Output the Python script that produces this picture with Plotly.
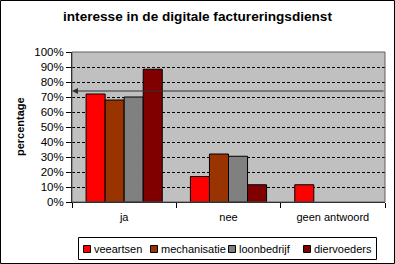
import plotly.graph_objects as go

categories = ["ja", "nee", "geen antwoord"]
series_names = ["veeartsen", "mechanisatie", "loonbedrijf", "diervoeders"]
veeartsen = [72, 17, 11.5]
mechanisatie = [68, 32, None]
loonbedrijf = [70, 30.5, None]
diervoeders = [88.5, 11.5, None]
colors = ["#FF0000", "#993300", "#808080", "#800000"]
reference_level = 74
y_ticks = [0, 10, 20, 30, 40, 50, 60, 70, 80, 90, 100]

W, H = 395, 264
L, R, T, B = 72, 10, 52, 62
pw, ph = W - L - R, H - T - B


def px(xp):
    return (xp - L) / pw


def py(yp):
    return (H - B - yp) / ph


fig = go.Figure()
for name, vals, c in zip(series_names, [veeartsen, mechanisatie, loonbedrijf, diervoeders], colors):
    fig.add_trace(go.Bar(name=name, x=categories, y=vals,
                         marker=dict(color=c, line=dict(color="black", width=1))))

fig.update_layout(
    width=W, height=H,
    margin=dict(l=L, r=R, t=T, b=B, autoexpand=False),
    paper_bgcolor="white", plot_bgcolor="#C0C0C0",
    barmode="group", bargap=0.27, bargroupgap=0,
    font=dict(family="Arial, Liberation Sans", size=11, color="black"),
    title=dict(text="<b>interesse in de digitale factureringsdienst</b>", x=0.5, xanchor="center",
               y=1 - 16 / H, yanchor="middle", yref="container", font=dict(size=13.6)),
    showlegend=False,
)
fig.update_xaxes(showline=True, linecolor="black", linewidth=1, ticks="outside", ticklen=5,
                 tickcolor="black", tickson="boundaries", showgrid=False, fixedrange=True,
                 ticklabelstandoff=5)
fig.update_yaxes(range=[0, 100], tickvals=y_ticks, ticktext=[f"{v}%" for v in y_ticks],
                 showline=True, linecolor="black", linewidth=1, ticks="outside", ticklen=5,
                 tickcolor="black", showgrid=True, gridcolor="black", gridwidth=1, griddash="3px,2px",
                 zeroline=False, tickfont=dict(size=11.5))

# plot area border
fig.add_shape(type="rect", xref="paper", yref="paper", x0=0, x1=1, y0=0, y1=1,
              line=dict(color="#606060", width=1), layer="above")
# outer chart border
fig.add_shape(type="rect", xref="paper", yref="paper",
              x0=px(0.5), x1=px(W - 0.5), y0=py(H - 0.5), y1=py(0.5),
              line=dict(color="black", width=1))
# reference arrow line
fig.add_annotation(x=0, y=reference_level, xref="x domain", yref="y",
                   ax=1, ay=reference_level, axref="x domain", ayref="y",
                   text="", showarrow=True, arrowhead=2, arrowsize=1.2, arrowwidth=1,
                   arrowcolor="#303030", standoff=0)
# y axis title
fig.add_annotation(text="<b>percentage</b>", xref="paper", yref="paper",
                   x=px(20), y=py(127), showarrow=False, textangle=-90,
                   font=dict(size=11), xanchor="center", yanchor="middle")

# manual legend
fig.add_shape(type="rect", xref="paper", yref="paper",
              x0=px(78.5), x1=px(376.5), y0=py(259.5), y1=py(237.5),
              line=dict(color="black", width=1), fillcolor="white")
sq_x = [83, 150, 228, 303]
ly = 249
for name, c, sx in zip(series_names, colors, sq_x):
    fig.add_shape(type="rect", xref="paper", yref="paper",
                  x0=px(sx + 0.5), x1=px(sx + 7.5), y0=py(ly + 3.5), y1=py(ly - 3.5),
                  line=dict(color="black", width=1), fillcolor=c)
    fig.add_annotation(text=name, xref="paper", yref="paper", x=px(sx + 9), y=py(ly),
                       xanchor="left", yanchor="middle", showarrow=False,
                       font=dict(size=11))

fig.write_html("out.html")
